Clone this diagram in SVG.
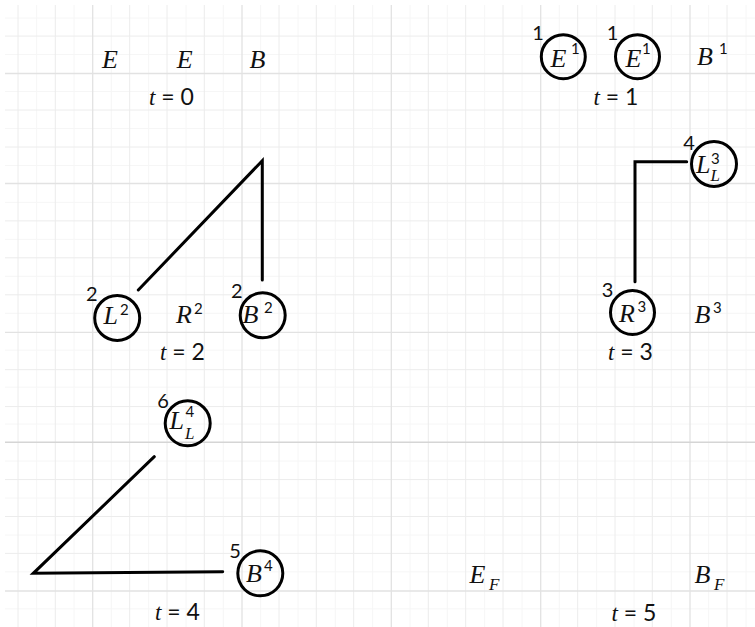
<svg xmlns="http://www.w3.org/2000/svg" width="755" height="627" viewBox="0 0 755 627">
<defs>
<style>
.sub{stroke:#f6f6f6;stroke-width:1}
.min{stroke:#ececec;stroke-width:1}
.maj{stroke:#e2e2e2;stroke-width:1.3}
.sep{stroke:#d5d5d5;stroke-width:1.6}
.ring{fill:none;stroke:#000;stroke-width:3}
.m{font-family:"Liberation Serif",serif;font-style:italic;font-size:26px;fill:#111}
.s{font-family:"Lato","Noto Sans",sans-serif;font-size:15px;fill:#111}
.si{font-family:"Liberation Serif",serif;font-style:italic;font-size:17px;fill:#111}
.lab{font-family:"Lato","Noto Sans",sans-serif;font-size:20px;fill:#111;text-anchor:middle}
.t{font-family:"Lato","Noto Sans",sans-serif;font-size:23px;fill:#111;text-anchor:middle}
.ti{font-family:"Liberation Serif",serif;font-style:italic}
.c{fill:none;stroke:#000;stroke-width:3;stroke-linecap:round;stroke-linejoin:miter}
</style>
</defs>
<rect width="755" height="627" fill="#fff"/>
<g id="grid">
<g class="sub">
<path d="M36.7 5V627M74 5V627M111.3 5V627M148.7 5V627M186 5V627M223.3 5V627M260.7 5V627M298 5V627M335.3 5V627M372.7 5V627M410 5V627M447.3 5V627M484.7 5V627M522 5V627M559.3 5V627M596.7 5V627M634 5V627M671.3 5V627M708.7 5V627M746 5V627"/>
<path d="M5 18H755M5 54.6H755M5 91.6H755M5 128.5H755M5 165.5H755M5 202.4H755M5 239.4H755M5 276.3H755M5 313.3H755M5 350.2H755M5 387.2H755M5 424.1H755M5 461H755M5 498H755M5 535H755M5 571.9H755M5 608.9H755"/>
</g>
<g class="min">
<path d="M18 5V627M55.3 5V627M129.7 5V627M167 5V627M204.3 5V627M279 5V627M316.3 5V627M353.7 5V627M428.3 5V627M465.7 5V627M503 5V627M577.7 5V627M615 5V627M652.3 5V627M727 5V627"/>
<path d="M5 36.1H755M5 110H755M5 147H755M5 220.9H755M5 257.8H755M5 294.8H755M5 369.7H755M5 406.6H755M5 479.6H755M5 516.5H755M5 553.4H755"/>
</g>
<g class="maj">
<path d="M92.7 5V627M242 5V627M391.3 5V627M540.7 5V627M690 5V627"/>
<path d="M5 73.5H755M5 183.5H755M5 332.3H755M5 591H755"/>
</g>
<path class="sep" d="M5 442.3H755"/>
</g>
<g id="connectors">
<polyline class="c" points="138.3,290 262.3,160.7 262.3,280"/>
<polyline class="c" points="686.7,161.7 635,161.7 635,281.7"/>
<polyline class="c" points="154.3,456.7 33.3,573.3 222.7,571.7"/>
</g>
<g id="t0-E1"><text class="m" x="110" y="68" text-anchor="middle">E</text></g>
<g id="t0-E2"><text class="m" x="184.7" y="68" text-anchor="middle">E</text></g>
<g id="t0-B"><text class="m" x="257.5" y="68" text-anchor="middle">B</text></g>
<text class="t" x="171.5" y="105"><tspan class="ti">t</tspan> = 0</text>

<g id="t1-E1"><circle class="ring" cx="563.3" cy="56.7" r="22"/><text class="m" x="550.5" y="66.5">E</text><text class="s" x="571" y="54">1</text><text class="lab" x="538" y="40">1</text></g>
<g id="t1-E2"><circle class="ring" cx="637.5" cy="56.7" r="22"/><text class="m" x="625.5" y="66.5">E</text><text class="s" x="642" y="54">1</text><text class="lab" x="612.5" y="40">1</text></g>
<g id="t1-B"><text class="m" x="697" y="65">B</text><text class="s" x="719" y="54">1</text></g>
<text class="t" x="616" y="105"><tspan class="ti">t</tspan> = 1</text>

<g id="t2-L"><circle class="ring" cx="117.2" cy="318" r="22.5"/><text class="m" x="103.5" y="324">L</text><text class="s" x="120" y="315">2</text><text class="lab" x="91.7" y="301">2</text></g>
<g id="t2-R"><text class="m" x="176" y="323.3">R</text><text class="s" x="194" y="314">2</text></g>
<g id="t2-B"><circle class="ring" cx="262.7" cy="315.3" r="22.5"/><text class="m" x="242.5" y="323.3">B</text><text class="s" x="264" y="313">2</text><text class="lab" x="236.7" y="298">2</text></g>
<text class="t" x="182.5" y="360"><tspan class="ti">t</tspan> = 2</text>

<g id="t3-L"><circle class="ring" cx="714" cy="164" r="22.5"/><text class="m" x="696" y="173.3">L</text><text class="s" x="711" y="164">3</text><text class="si" x="710.5" y="180.5">L</text><text class="lab" x="689" y="150">4</text></g>
<g id="t3-R"><circle class="ring" cx="632.5" cy="312.5" r="22"/><text class="m" x="619" y="322">R</text><text class="s" x="637.5" y="312">3</text><text class="lab" x="607.5" y="297">3</text></g>
<g id="t3-B"><text class="m" x="694.5" y="323.3">B</text><text class="s" x="713" y="313">3</text></g>
<text class="t" x="630.5" y="360"><tspan class="ti">t</tspan> = 3</text>

<g id="t4-L"><circle class="ring" cx="187.7" cy="423.3" r="22.5"/><text class="m" x="169.5" y="428.5">L</text><text class="s" x="185.5" y="416.5">4</text><text class="si" x="185" y="438.5">L</text><text class="lab" x="163" y="408">6</text></g>
<g id="t4-B"><circle class="ring" cx="260.3" cy="573.3" r="22.5"/><text class="m" x="246" y="581.7">B</text><text class="s" x="264" y="571">4</text><text class="lab" x="235" y="558">5</text></g>
<text class="t" x="177.5" y="620"><tspan class="ti">t</tspan> = 4</text>

<g id="t5-E"><text class="m" x="469.5" y="583.3">E</text><text class="si" x="489" y="590">F</text></g>
<g id="t5-B"><text class="m" x="694.5" y="583">B</text><text class="si" x="714" y="590">F</text></g>
<text class="t" x="634" y="621"><tspan class="ti">t</tspan> = 5</text>
</svg>
